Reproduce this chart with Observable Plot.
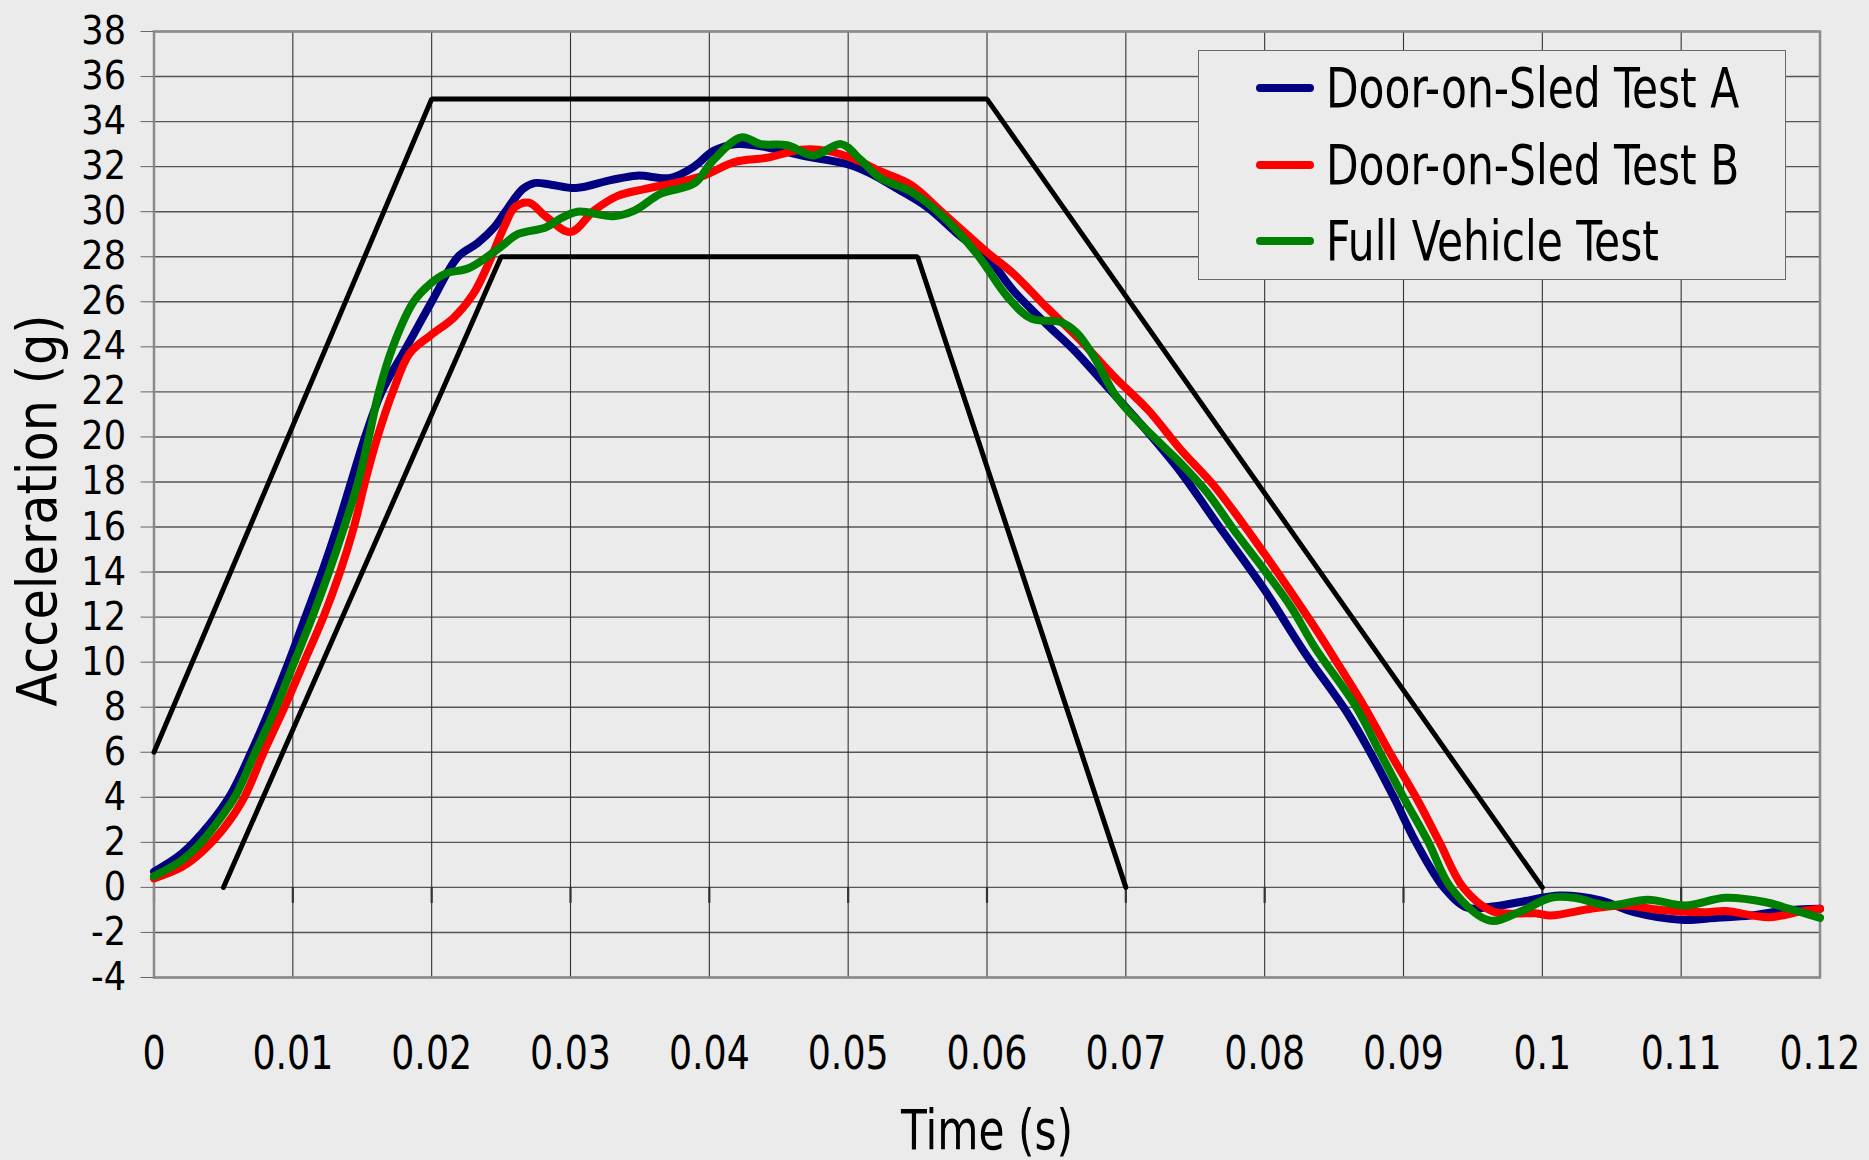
<!DOCTYPE html>
<html>
<head>
<meta charset="utf-8">
<script src="https://cdn.jsdelivr.net/npm/d3@7"></script>
<script src="https://cdn.jsdelivr.net/npm/@observablehq/plot@0.6"></script>
<style>
  html, body { margin: 0; padding: 0; background: #ebebeb; overflow: hidden; }
  #wrap { position: relative; width: 1869px; height: 1160px; font-family: "DejaVu Sans Condensed", "DejaVu Sans", sans-serif; }
  #legend { position: absolute; left: 1198px; top: 50px; width: 586px; height: 228px; border: 1.5px solid #6a6a6a; background: #ebebeb; }
  .entry { position: absolute; left: 57px; height: 60px; display: flex; align-items: center; color: #000; white-space: nowrap; }
  .swatch { display: inline-block; width: 58px; height: 8px; border-radius: 4px; margin-right: 12px; }
  .ltext { display: inline-block; font-size: 55px; transform: scaleX(0.856); transform-origin: left center; }
</style>
</head>
<body>
<div id="wrap"></div>
<script>
// ---- data ----
const seriesNames = ["Door-on-Sled Test A", "Door-on-Sled Test B", "Full Vehicle Test"];
const seriesColors = ["#000080", "#ff0000", "#008000"];

const timeA = [0, 0.002, 0.004, 0.0055, 0.007, 0.0084, 0.0097, 0.0109, 0.0121, 0.0132, 0.0142, 0.0152, 0.0164, 0.0182, 0.02, 0.0219, 0.0233, 0.0245, 0.0252, 0.02655, 0.0274, 0.0286, 0.0304, 0.0329, 0.0348, 0.0372, 0.0389, 0.0403, 0.042, 0.0442, 0.0466, 0.05, 0.0516, 0.0533, 0.0557, 0.0581, 0.06, 0.0619, 0.0643, 0.0662, 0.0687, 0.0716, 0.074, 0.0764, 0.08, 0.0828, 0.086, 0.0876, 0.0893, 0.0909, 0.0929, 0.0946, 0.0964, 0.0983, 0.1013, 0.1042, 0.1066, 0.11, 0.1126, 0.115, 0.1174, 0.12];
const accelA = [0.7, 1.5, 2.8, 4.1, 6.0, 8.0, 10.0, 12.0, 14.0, 16.0, 18.0, 20.0, 22.0, 24.0, 26.0, 28.0, 28.6, 29.3, 29.9, 31.0, 31.27, 31.2, 31.05, 31.4, 31.6, 31.5, 32.0, 32.7, 33.0, 32.85, 32.5, 32.1, 31.7, 31.1, 30.2, 28.9, 28.0, 26.5, 25.0, 23.9, 22.2, 20.2, 18.4, 16.3, 13.2, 10.5, 7.7, 6.0, 4.0, 2.0, 0.0, -0.9, -0.85, -0.66, -0.36, -0.58, -1.1, -1.44, -1.35, -1.25, -1.03, -0.95];

const timeB = [0, 0.002, 0.0035, 0.005, 0.0065, 0.0079, 0.0094, 0.0108, 0.0122, 0.0134, 0.0144, 0.0152, 0.0161, 0.0172, 0.0184, 0.0199, 0.0216, 0.023, 0.0241, 0.0252, 0.026, 0.027, 0.0282, 0.03, 0.0317, 0.0334, 0.0353, 0.0377, 0.0396, 0.0418, 0.0442, 0.0466, 0.0485, 0.0504, 0.0523, 0.0545, 0.0569, 0.06, 0.0619, 0.0643, 0.0667, 0.0692, 0.0716, 0.074, 0.0764, 0.08, 0.0836, 0.0854, 0.0872, 0.089, 0.0909, 0.0926, 0.0943, 0.0964, 0.0995, 0.1006, 0.1035, 0.1059, 0.1085, 0.1118, 0.1132, 0.1163, 0.1189, 0.12];
const accelB = [0.4, 0.9, 1.6, 2.6, 4.0, 6.0, 8.0, 10.0, 12.0, 14.0, 16.0, 18.0, 20.0, 22.0, 23.7, 24.5, 25.3, 26.35, 27.7, 29.3, 30.2, 30.4, 29.8, 29.1, 30.05, 30.7, 31.0, 31.3, 31.6, 32.2, 32.4, 32.75, 32.7, 32.35, 31.8, 31.2, 29.9, 28.2, 27.25, 25.75, 24.3, 22.65, 21.2, 19.4, 17.8, 14.8, 11.55, 9.8, 8.0, 6.0, 4.0, 2.0, 0.0, -1.06, -1.15, -1.25, -0.95, -0.8, -1.0, -1.1, -1.05, -1.32, -1.03, -0.95];

const timeFull = [0, 0.002, 0.0034, 0.0047, 0.0059, 0.0073, 0.0088, 0.0101, 0.0114, 0.0126, 0.0137, 0.0147, 0.01548, 0.0162, 0.0172, 0.0187, 0.02, 0.021, 0.0227, 0.0249, 0.0262, 0.0282, 0.0293, 0.0305, 0.0331, 0.0346, 0.0365, 0.0389, 0.0403, 0.0423, 0.0437, 0.0456, 0.0475, 0.0495, 0.0509, 0.0523, 0.0545, 0.0569, 0.0593, 0.0615, 0.0632, 0.0653, 0.0665, 0.0677, 0.0692, 0.0704, 0.072, 0.074, 0.0759, 0.0778, 0.08, 0.0819, 0.0836, 0.0866, 0.0883, 0.09, 0.0918, 0.0934, 0.0962, 0.0983, 0.1006, 0.1023, 0.1047, 0.1076, 0.1103, 0.1132, 0.1161, 0.1174, 0.12];
const accelFull = [0.5, 1.2, 2.0, 3.0, 4.1, 6.0, 8.0, 10.0, 12.0, 14.0, 16.0, 18.0, 20.0, 22.0, 24.0, 26.0, 26.85, 27.25, 27.5, 28.4, 29.0, 29.3, 29.7, 30.0, 29.8, 30.05, 30.8, 31.25, 32.3, 33.3, 33.0, 32.95, 32.5, 33.0, 32.3, 31.5, 30.9, 29.75, 28.1, 26.2, 25.25, 25.1, 24.6, 23.55, 21.9, 21.0, 20.0, 18.8, 17.5, 15.85, 14.07, 12.45, 10.67, 8.0, 6.0, 4.0, 2.0, 0.0, -1.47, -1.1, -0.46, -0.46, -0.8, -0.55, -0.8, -0.46, -0.66, -0.88, -1.35];

// corridor (upper / lower bounds)
const upperTime = [0, 0.02, 0.06, 0.1];
const upperAccel = [6, 35, 35, 0];
const lowerTime = [0.005, 0.025, 0.055, 0.07];
const lowerAccel = [0, 28, 28, 0];

const xTicks = [0, 0.01, 0.02, 0.03, 0.04, 0.05, 0.06, 0.07, 0.08, 0.09, 0.1, 0.11, 0.12];
const yTicks = [-4, -2, 0, 2, 4, 6, 8, 10, 12, 14, 16, 18, 20, 22, 24, 26, 28, 30, 32, 34, 36, 38];

const xLabel = "Time (s)";
const yLabel = "Acceleration (g)";

// ---- build tables ----
const curveTimes = [timeA, timeB, timeFull];
const curveAccels = [accelA, accelB, accelFull];
const rows = seriesNames.flatMap((name, k) => curveTimes[k].map((t, i) => ({name, t, g: curveAccels[k][i]})));
const envRows = [
  ...upperTime.map((t, i) => ({env: "upper", t, g: upperAccel[i]})),
  ...lowerTime.map((t, i) => ({env: "lower", t, g: lowerAccel[i]}))
];

const FONT = "'DejaVu Sans Condensed', 'DejaVu Sans', sans-serif";

const chart = Plot.plot({
  width: 1869,
  height: 1160,
  marginLeft: 153.5,
  marginRight: 49.5,
  marginTop: 31,
  marginBottom: 183,
  x: {domain: [0, 0.12]},
  y: {domain: [-4, 38]},
  color: {domain: seriesNames, range: seriesColors},
  style: {background: "#ebebeb", fontFamily: FONT, color: "#000", overflow: "visible"},
  marks: [
    Plot.ruleY(yTicks, {stroke: "#555", strokeWidth: 1.4}),
    Plot.ruleX(xTicks, {stroke: "#333", strokeWidth: 1.1}),
    Plot.ruleX(xTicks, {y1: 0, y2: 0, insetBottom: -16, stroke: "#333", strokeWidth: 2.2}),
    Plot.frame({stroke: "#8a8a8a", strokeWidth: 2.5}),
    Plot.axisY({ticks: yTicks, tickSize: 13, tickPadding: 15, fontSize: 39, tickFormat: d => String(d), label: null, stroke: "#666"}),
    Plot.axisX({ticks: xTicks, tickSize: 0, tickPadding: 58, fontSize: 47, tickFormat: d => String(d), label: null}),
    Plot.line(envRows, {x: "t", y: "g", z: "env", stroke: "#000", strokeWidth: 5, strokeLinejoin: "miter", strokeLinecap: "round"}),
    Plot.line(rows, {x: "t", y: "g", z: "name", stroke: "name", strokeWidth: 8, curve: "catmull-rom", strokeLinejoin: "round", strokeLinecap: "round"}),
    Plot.text([yLabel], {frameAnchor: "left", textAnchor: "middle", lineAnchor: "middle", dx: -116, dy: 6, rotate: -90, fontSize: 56, text: d => d, fill: "#000"}),
    Plot.text([xLabel], {frameAnchor: "bottom", textAnchor: "middle", lineAnchor: "middle", dy: 154, fontSize: 56, text: d => d, fill: "#000"})
  ]
});

// narrow the glyphs of the x tick labels and axis titles to match the condensed face of the original
chart.querySelectorAll('g[aria-label="x-axis tick label"] text').forEach(t => {
  const tr = t.getAttribute("transform") || "";
  t.setAttribute("transform", tr + " scale(0.86,1)");
});
chart.querySelectorAll("text").forEach(t => {
  if (t.textContent === xLabel) t.setAttribute("transform", (t.getAttribute("transform") || "") + " scale(0.84,1)");
  if (t.textContent === yLabel) t.setAttribute("transform", (t.getAttribute("transform") || "") + " scale(0.98,1)");
});

const wrap = document.getElementById("wrap");
wrap.appendChild(chart);

// legend (inside the plot area, top-right)
const legend = document.createElement("div");
legend.id = "legend";
const entryCenters = [88, 165, 241];
seriesNames.forEach((name, i) => {
  const e = document.createElement("div");
  e.className = "entry";
  e.style.top = (entryCenters[i] - 50 - 1.5 - 30) + "px";
  const sw = document.createElement("span");
  sw.className = "swatch";
  sw.style.background = seriesColors[i];
  const tx = document.createElement("span");
  tx.className = "ltext";
  tx.textContent = name;
  e.appendChild(sw);
  e.appendChild(tx);
  legend.appendChild(e);
});
wrap.appendChild(legend);
</script>
</body>
</html>
